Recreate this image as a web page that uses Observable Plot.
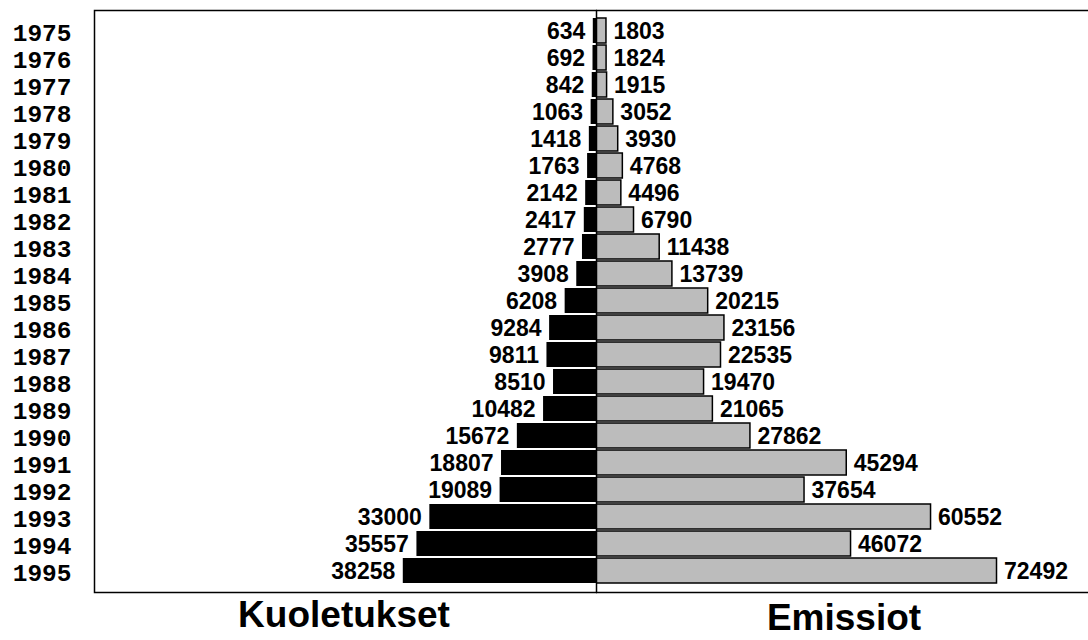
<!DOCTYPE html>
<html><head><meta charset="utf-8">
<script src="https://cdn.jsdelivr.net/npm/d3@7"></script>
<script src="https://cdn.jsdelivr.net/npm/@observablehq/plot@0.6"></script>
<style>
html,body{margin:0;padding:0;background:#fff;overflow:hidden;width:1088px;height:640px}
#wrap{position:relative;width:1088px;height:640px;overflow:hidden}
#left,#right{position:absolute;top:0}
#left{left:0;width:597px}
#right{left:596px;width:493px}
.title{position:absolute;font-family:"Liberation Sans",Arial,Helvetica,sans-serif;font-weight:bold;font-size:37px;line-height:30px;white-space:nowrap;color:#000;transform:translateX(-50%)}
</style></head><body>
<div id="wrap">
  <div id="left"></div>
  <div id="right"></div>
  <div class="title" id="tl" style="left:344px;top:600px"></div>
  <div class="title" id="tr" style="left:844px;top:603px"></div>
</div>
<script>
const years = [1975,1976,1977,1978,1979,1980,1981,1982,1983,1984,1985,1986,1987,1988,1989,1990,1991,1992,1993,1994,1995];
const kuoletukset = [634,692,842,1063,1418,1763,2142,2417,2777,3908,6208,9284,9811,8510,10482,15672,18807,19089,33000,35557,38258];
const emissiot = [1803,1824,1915,3052,3930,4768,4496,6790,11438,13739,20215,23156,22535,19470,21065,27862,45294,37654,60552,46072,72492];
const titleLeft = "Kuoletukset";
const titleRight = "Emissiot";

const rows = years.map((y, i) => ({year: String(y), k: kuoletukset[i], e: emissiot[i]}));
const yDomain = years.map(String);
const sans = "'Liberation Sans', Arial, Helvetica, sans-serif";
const mono = "'Liberation Mono', 'Courier New', monospace";

const left = Plot.plot({
  width: 597, height: 600,
  marginLeft: 94, marginRight: 1, marginTop: 10, marginBottom: 8,
  x: {domain: [0, 99400], reverse: true, axis: null},
  y: {domain: yDomain, paddingInner: 0.07, paddingOuter: 0.035, label: null},
  marks: [
    Plot.barX(rows, {x: "k", y: "year", fill: "#000"}),
    Plot.text(rows, {x: "k", y: "year", text: d => String(d.k), textAnchor: "end", dx: -8, dy: 1,
      fontSize: 23, fontWeight: "bold", fontFamily: sans, fill: "#000"}),
    Plot.axisY({tickSize: 0, tickPadding: 23, dy: 2, fontSize: 24.5, fontWeight: "bold", fontFamily: mono, label: null, fill: "#000"}),
    Plot.frame({stroke: "#000", strokeWidth: 1.5})
  ]
});

const right = Plot.plot({
  width: 493, height: 600,
  marginLeft: 0, marginRight: 0, marginTop: 10, marginBottom: 8,
  x: {domain: [0, 89233], axis: null},
  y: {domain: yDomain, paddingInner: 0.07, paddingOuter: 0.035, axis: null},
  marks: [
    Plot.barX(rows, {x: "e", y: "year", fill: "#bcbcbc", stroke: "#000", strokeWidth: 1.5}),
    Plot.text(rows, {x: "e", y: "year", text: d => String(d.e), textAnchor: "start", dx: 7, dy: 1,
      fontSize: 23, fontWeight: "bold", fontFamily: sans, fill: "#000"}),
    Plot.frame({stroke: "#000", strokeWidth: 1.5})
  ]
});

document.getElementById("left").appendChild(left);
document.getElementById("right").appendChild(right);
document.getElementById("tl").textContent = titleLeft;
document.getElementById("tr").textContent = titleRight;
</script>
</body></html>
